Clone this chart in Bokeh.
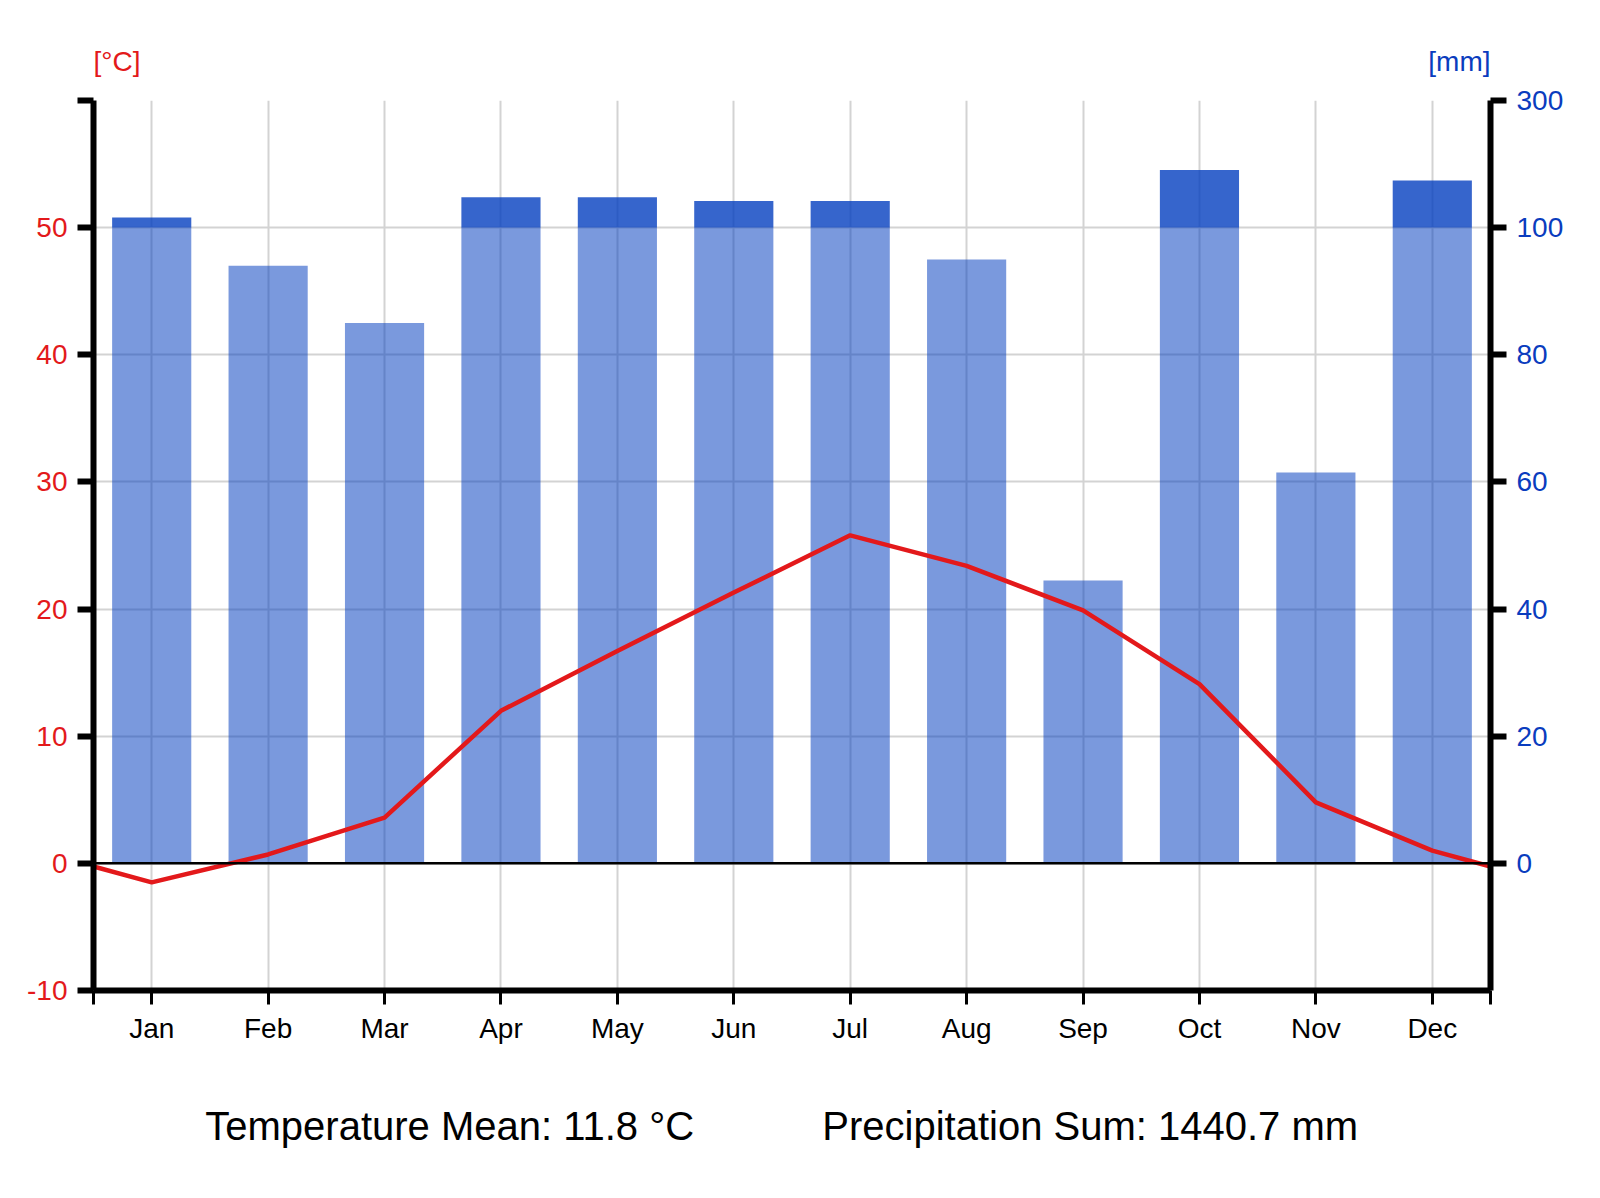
from bokeh.plotting import figure
from bokeh.layouts import column
from bokeh.models import Range1d, LinearAxis, FixedTicker, Span, Label
from bokeh.embed import file_html
from bokeh.resources import INLINE

months = ["Jan", "Feb", "Mar", "Apr", "May", "Jun", "Jul", "Aug", "Sep", "Oct", "Nov", "Dec"]
temp_c = [-1.5, 0.7, 3.6, 12.0, 16.7, 21.3, 25.8, 23.4, 19.9, 14.1, 4.8, 1.0]
precip_mm = [116.0, 94.0, 85.0, 148.0, 148.0, 142.0, 142.0, 95.0, 44.5, 190.7, 61.5, 174.0]
temp_ticks = [-10, 0, 10, 20, 30, 40, 50, 60]
temp_tick_labels = {-10: "-10", 60: ""}
mm_ticks = [0, 20, 40, 60, 80, 100, 120]
mm_tick_labels = {120: "300"}

FONT = "Liberation Sans"
RED = "#e3191b"
BLUE_TXT = "#0a3cbe"
BAR = "#003cbe"
BL, BR = 93, 110

xs = [i + 0.5 for i in range(len(months))]
x_range = Range1d(0, 12)


def strip(h):
    f = figure(width=1600, height=h, x_range=x_range, y_range=Range1d(0, 1),
               output_backend="svg", toolbar_location=None,
               min_border_left=BL, min_border_right=BR, min_border_top=0, min_border_bottom=0,
               x_axis_location=None, y_axis_location=None)
    f.outline_line_color = None
    f.xgrid.visible = False
    f.ygrid.visible = False
    return f


# top strip with unit labels
top = strip(80)
top.add_layout(Label(x=0, y=0.24, text="[°C]", text_font=FONT, text_font_size="28px",
                     text_color=RED, text_align="left", text_baseline="middle"))
top.add_layout(Label(x=12, y=0.24, text="[mm]", text_font=FONT, text_font_size="28px",
                     text_color=BLUE_TXT, text_align="right", text_baseline="middle"))

# main chart
p = figure(width=1600, height=990, x_range=x_range, y_range=Range1d(-10, 60),
           output_backend="svg", toolbar_location=None,
           min_border_left=BL, min_border_right=BR, min_border_top=20, min_border_bottom=80,
           x_axis_location=None, y_axis_location=None)
p.outline_line_color = None
p.extra_y_ranges = {"mm": Range1d(-20, 120)}

p.xgrid.ticker = FixedTicker(ticks=xs)
p.ygrid.ticker = FixedTicker(ticks=temp_ticks)
for g in (p.xgrid, p.ygrid):
    g.grid_line_color = "#d3d3d3"
    g.grid_line_width = 2

low_top = [min(v, 100) for v in precip_mm]
p.vbar(x=xs, width=0.68, bottom=0, top=low_top, y_range_name="mm",
       fill_color=BAR, fill_alpha=0.52, line_color=None)
hx = [x for x, v in zip(xs, precip_mm) if v > 100]
htop = [100 + (v - 100) / 10 for v in precip_mm if v > 100]
p.vbar(x=hx, width=0.68, bottom=100, top=htop, y_range_name="mm",
       fill_color=BAR, fill_alpha=0.79, line_color=None)

p.add_layout(Span(location=0, dimension="width", line_color="black", line_width=2.5))

edge = (temp_c[-1] + temp_c[0]) / 2
p.line(x=[0] + xs + [12], y=[edge] + temp_c + [edge], line_color=RED, line_width=4.5)

left = LinearAxis(ticker=FixedTicker(ticks=temp_ticks), major_label_overrides=temp_tick_labels)
right = LinearAxis(y_range_name="mm", ticker=FixedTicker(ticks=mm_ticks),
                   major_label_overrides=mm_tick_labels)
bottom = LinearAxis(ticker=FixedTicker(ticks=[0] + xs + [12]),
                    major_label_overrides={**{x: m for x, m in zip(xs, months)}, 0: "", 12: ""})
for ax, col in ((left, RED), (right, BLUE_TXT), (bottom, "black")):
    ax.axis_line_width = 6
    ax.axis_line_color = "black"
    ax.major_tick_line_width = 6
    ax.major_tick_line_color = "black"
    ax.major_tick_out = 16
    ax.major_tick_in = 0
    ax.minor_tick_line_color = None
    ax.major_label_text_font = FONT
    ax.major_label_text_font_size = "28px"
    ax.major_label_text_color = col
    ax.major_label_standoff = 10
bottom.major_tick_line_width = 3
bottom.major_tick_out = 14
bottom.major_label_standoff = 8
p.add_layout(left, "left")
p.add_layout(right, "right")
p.add_layout(bottom, "below")

# bottom strip with summary
bot = strip(128)
mean_t = sum(temp_c) / len(temp_c)
sum_p = sum(precip_mm)
bot.add_layout(Label(x=0.96, y=0.57, text=f"Temperature Mean: {mean_t:.1f} °C", text_font=FONT,
                     text_font_size="40px", text_color="black", text_align="left",
                     text_baseline="alphabetic"))
bot.add_layout(Label(x=6.26, y=0.57, text=f"Precipitation Sum: {sum_p:.1f} mm", text_font=FONT,
                     text_font_size="40px", text_color="black", text_align="left",
                     text_baseline="alphabetic"))

layout = column(top, p, bot, spacing=0)
open("out.html", "w").write(file_html(layout, INLINE))
